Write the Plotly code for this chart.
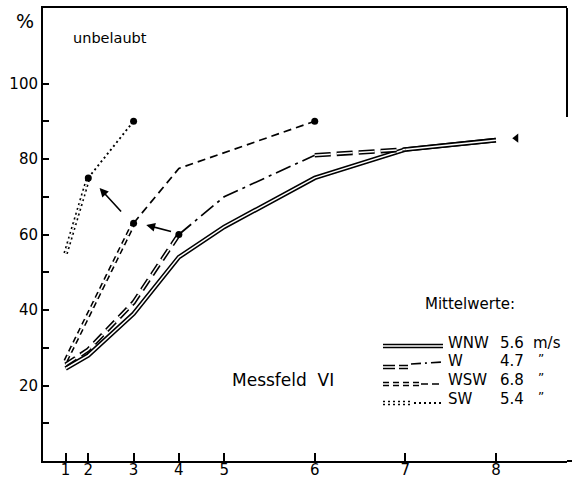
import plotly.graph_objects as go

# Measuring stations and their position along the distance scale
stations = [1, 2, 3, 4, 5, 6, 7, 8]
station_pos = [0.5, 1, 2, 3, 4, 6, 8, 10]
pos = dict(zip(stations, station_pos))

y_tickvals = [10, 20, 30, 40, 50, 60, 70, 80, 90, 100]
y_ticktext = ["", "20", "", "40", "", "60", "", "80", "", "100"]

# Relative wind speed (%) per wind direction
wnw_st = [1, 2, 3, 4, 5, 6, 7, 8]
wnw_val = [24.5, 28, 39, 54, 62, 75, 82.5, 85]

w_st = [1, 2, 3, 4, 5, 6, 7, 8]
w_val = [25.5, 29.5, 42, 60, 70, 81, 82.5, 85]

wsw_st = [1, 3, 4, 6]
wsw_val = [26.5, 63, 77.5, 90]

sw_st = [1, 2, 3]
sw_val = [55, 75, 90]

# Highlighted points (station, value)
marked = [(4, 60), (3, 63), (6, 90), (2, 75), (3, 90)]
extra_pos, extra_val = 10.45, 85.5

# Mean wind speeds
leg_names = ["WNW", "W", "WSW", "SW"]
leg_speed = ["5.6", "4.7", "6.8", "5.4"]
leg_unit = ["m/s", "\u201d", "\u201d", "\u201d"]

FONT = "DejaVu Sans"
WIDTH, HEIGHT = 572, 479
ML, MR, MT, MB = 43, 5, 8, 18
PW, PH = WIDTH - ML - MR, HEIGHT - MT - MB


def px(x):
    return (x - ML) / PW


def py(y):
    return (HEIGHT - MB - y) / PH


fig = go.Figure()


def seg(st, val, a, b):
    return [pos[s] for s in st[a:b]], val[a:b]


def add_line(x, y, dash, double=False, width=1.7):
    fig.add_trace(go.Scatter(
        x=x, y=y, mode="lines", hoverinfo="skip", showlegend=False,
        line=dict(color="black", width=4.6 if double else width, dash=dash)))
    if double:
        fig.add_trace(go.Scatter(
            x=x, y=y, mode="lines", hoverinfo="skip", showlegend=False,
            line=dict(color="white", width=1.5, dash=dash)))


# WNW: double solid line
add_line(*seg(wnw_st, wnw_val, 0, 8), "solid", double=True)

# W: double long dashes, then dash-dot, then double long dashes
add_line(*seg(w_st, w_val, 0, 4), "12px,6px", double=True)
add_line(*seg(w_st, w_val, 3, 6), "16px,5px,3px,5px")
add_line(*seg(w_st, w_val, 5, 7), "16px,6px", double=True)
add_line(*seg(w_st, w_val, 6, 8), "solid", double=True)

# WSW: double short dashes, then single dashes
add_line(*seg(wsw_st, wsw_val, 0, 2), "6px,4px", double=True)
add_line(*seg(wsw_st, wsw_val, 1, 4), "8px,5px")

# SW: double dots, then single dots
add_line(*seg(sw_st, sw_val, 0, 2), "2px,3px", double=True)
add_line(*seg(sw_st, sw_val, 1, 3), "2px,3px", width=1.9)

fig.add_trace(go.Scatter(
    x=[pos[s] for s, _ in marked], y=[v for _, v in marked],
    mode="markers", hoverinfo="skip", showlegend=False,
    marker=dict(color="black", size=7)))
fig.add_trace(go.Scatter(
    x=[extra_pos], y=[extra_val], mode="markers", hoverinfo="skip",
    showlegend=False,
    marker=dict(color="black", size=8, symbol="triangle-left")))

annotations = []
# Arrows pointing from the W and WSW maxima
for (hx, hy), (tx, ty) in [((2.28, 62.5), (2.86, 60.7)),
                           ((1.25, 72.3), (1.755, 65.7))]:
    annotations.append(dict(
        x=hx, y=hy, ax=tx, ay=ty, xref="x", yref="y", axref="x", ayref="y",
        text="", showarrow=True, arrowhead=2, arrowsize=1.1,
        arrowwidth=1.6, arrowcolor="black"))


def label(text, x, y, size, xanchor="center"):
    annotations.append(dict(
        text=text, x=px(x), y=py(y), xref="paper", yref="paper",
        xanchor=xanchor, yanchor="middle", showarrow=False,
        font=dict(family=FONT, size=size, color="black")))


label("%", 25, 21, 19)
label("unbelaubt", 110, 38, 14.5)
label("Mittelwerte:", 470, 304, 15)
label("Messfeld  VI", 283, 380, 17)

rows_y = [343, 361, 380, 399]
for name, speed, unit, yy in zip(leg_names, leg_speed, leg_unit, rows_y):
    label(name, 446, yy, 15, "left")
    label(speed, 498, yy, 15, "left")
    label(unit, 531 if unit == "m/s" else 536, yy if unit == "m/s" else yy - 2,
          15 if unit == "m/s" else 12, "left")

shapes = []


def leg_line(x0, y0, x1, y1, dash, double=False, width=1.7):
    shapes.append(dict(type="line", xref="paper", yref="paper",
                       x0=px(x0), y0=py(y0), x1=px(x1), y1=py(y1),
                       line=dict(color="black", width=4.6 if double else width,
                                 dash=dash)))
    if double:
        shapes.append(dict(type="line", xref="paper", yref="paper",
                           x0=px(x0), y0=py(y0), x1=px(x1), y1=py(y1),
                           line=dict(color="white", width=1.5, dash=dash)))


leg_line(383, 346, 443, 346, "solid", double=True)
leg_line(383, 367, 408, 367, "12px,4px", double=True)
leg_line(411, 364, 443, 362, "10px,4px,2px,4px")
leg_line(383, 384, 419, 384, "6px,4px", double=True)
leg_line(421, 384, 443, 384, "7px,4px")
leg_line(383, 403, 412, 403, "2px,3px", double=True)
leg_line(414, 403, 443, 403, "2px,3px", width=1.9)

# Partial right frame and x axis run-out to the page edge
shapes.append(dict(type="line", xref="paper", yref="paper",
                   x0=1, x1=1, y0=py(117), y1=1,
                   line=dict(color="black", width=2)))
shapes.append(dict(type="line", xref="paper", yref="paper",
                   x0=1, x1=px(572), y0=0, y1=0,
                   line=dict(color="black", width=2)))

fig.update_layout(
    width=WIDTH, height=HEIGHT,
    margin=dict(l=ML, r=MR, t=MT, b=MB, autoexpand=False),
    paper_bgcolor="white", plot_bgcolor="white",
    showlegend=False,
    annotations=annotations, shapes=shapes,
    font=dict(family=FONT, size=15, color="black"),
    xaxis=dict(range=[0, 11.57], tickvals=station_pos,
               ticktext=[str(s) for s in stations],
               ticks="inside", ticklen=8, tickwidth=1.5, tickcolor="black",
               ticklabelstandoff=-6,
               showline=True, linewidth=2, linecolor="black", mirror=True,
               showgrid=False, zeroline=False,
               tickfont=dict(family=FONT, size=15)),
    yaxis=dict(range=[0, 120], tickvals=y_tickvals, ticktext=y_ticktext,
               ticks="inside", ticklen=6, tickwidth=1.5, tickcolor="black",
               showline=True, linewidth=2, linecolor="black",
               showgrid=False, zeroline=False,
               tickfont=dict(family=FONT, size=15)),
)

fig.write_html("out.html")
